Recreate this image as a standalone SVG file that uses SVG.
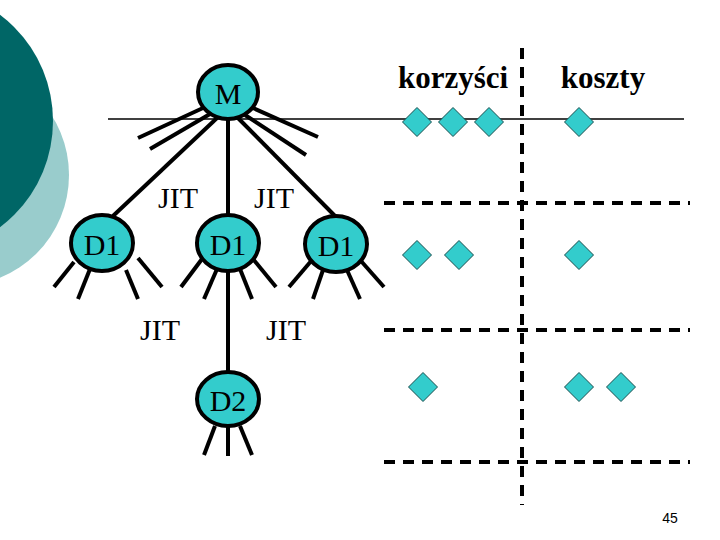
<svg xmlns="http://www.w3.org/2000/svg" width="720" height="540" viewBox="0 0 720 540">
<style>
.node{fill:#33CCCC;stroke:#000;stroke-width:4}
.lbl{font-family:"Liberation Serif","Times New Roman",serif;font-size:30px;fill:#000;text-anchor:middle}
.hdr{font-family:"Liberation Serif","Times New Roman",serif;font-size:31px;font-weight:bold;fill:#000;text-anchor:middle}
.ln{stroke:#000;stroke-width:4;fill:none}
.dash{stroke:#000;stroke-width:4;stroke-dasharray:11 8;fill:none}
.dia{fill:#33CCCC;stroke:#1a4d4d;stroke-width:1}
</style>
<defs>
<polygon id="dm" class="dia" points="0,-14.5 14.5,0 0,14.5 -14.5,0"/>
</defs>
<rect width="720" height="540" fill="#fff"/>
<g id="background">
<circle cx="-42" cy="175" r="111" fill="#99CCCC"/>
<circle cx="-80" cy="121" r="133" fill="#006666"/>
</g>
<line x1="108" y1="119" x2="684" y2="119" stroke="#000" stroke-width="1.3"/>
<g id="grid">
<line class="dash" x1="522" y1="48" x2="522" y2="505"/>
<line class="dash" x1="384" y1="203" x2="690" y2="203"/>
<line class="dash" x1="384" y1="330" x2="690" y2="330"/>
<line class="dash" x1="384" y1="462" x2="690" y2="462"/>
</g>
<g id="connectors">
<line class="ln" x1="203" y1="108" x2="138" y2="138"/>
<line class="ln" x1="210" y1="114" x2="150" y2="149"/>
<line class="ln" x1="217" y1="118" x2="113" y2="216"/>
<line class="ln" x1="228" y1="119" x2="228" y2="372"/>
<line class="ln" x1="238" y1="118" x2="335" y2="216"/>
<line class="ln" x1="245" y1="115" x2="306" y2="155"/>
<line class="ln" x1="253" y1="108" x2="318" y2="137"/>
<line class="ln" x1="74" y1="262" x2="54" y2="287"/>
<line class="ln" x1="90" y1="269" x2="78" y2="299"/>
<line class="ln" x1="126" y1="270" x2="138" y2="299"/>
<line class="ln" x1="138" y1="258" x2="162" y2="287"/>
<line class="ln" x1="202" y1="259" x2="181" y2="287"/>
<line class="ln" x1="217" y1="269" x2="204" y2="299"/>
<line class="ln" x1="240" y1="269" x2="252" y2="299"/>
<line class="ln" x1="253" y1="259" x2="276" y2="287"/>
<line class="ln" x1="312" y1="260" x2="289" y2="287"/>
<line class="ln" x1="323" y1="270" x2="313" y2="299"/>
<line class="ln" x1="347" y1="270" x2="360" y2="299"/>
<line class="ln" x1="361" y1="261" x2="384" y2="287"/>
<line class="ln" x1="215" y1="426" x2="204" y2="455"/>
<line class="ln" x1="228" y1="427" x2="228" y2="456"/>
<line class="ln" x1="240" y1="426" x2="252" y2="455"/>
</g>
<g id="node-M">
<ellipse class="node" cx="228" cy="92" rx="30" ry="27"/>
<text class="lbl" x="228" y="104" font-size="32">M</text>
</g>
<g id="node-D1-left">
<ellipse class="node" cx="102" cy="243" rx="31" ry="28"/>
<text class="lbl" x="102" y="255">D1</text>
</g>
<g id="node-D1-mid">
<ellipse class="node" cx="228" cy="243" rx="31" ry="28"/>
<text class="lbl" x="228" y="255">D1</text>
</g>
<g id="node-D1-right">
<ellipse class="node" cx="336" cy="244" rx="31" ry="28"/>
<text class="lbl" x="336" y="256">D1</text>
</g>
<g id="node-D2">
<ellipse class="node" cx="228" cy="399" rx="31" ry="27"/>
<text class="lbl" x="228" y="411">D2</text>
</g>
<g id="labels">
<text class="lbl" x="178" y="208">JIT</text>
<text class="lbl" x="274" y="208">JIT</text>
<text class="lbl" x="160" y="340">JIT</text>
<text class="lbl" x="286" y="340">JIT</text>
<text class="hdr" x="453" y="88">korzyści</text>
<text class="hdr" x="603" y="88">koszty</text>
<text x="670" y="523" font-family="Liberation Sans, Arial, sans-serif" font-size="14" fill="#000" text-anchor="middle">45</text>
</g>
<g id="diamonds">
<use href="#dm" x="417" y="122"/>
<use href="#dm" x="453" y="122"/>
<use href="#dm" x="489" y="122"/>
<use href="#dm" x="579" y="122"/>
<use href="#dm" x="417" y="255"/>
<use href="#dm" x="459" y="255"/>
<use href="#dm" x="579" y="255"/>
<use href="#dm" x="423" y="387"/>
<use href="#dm" x="579" y="387"/>
<use href="#dm" x="621" y="387"/>
</g>
</svg>
